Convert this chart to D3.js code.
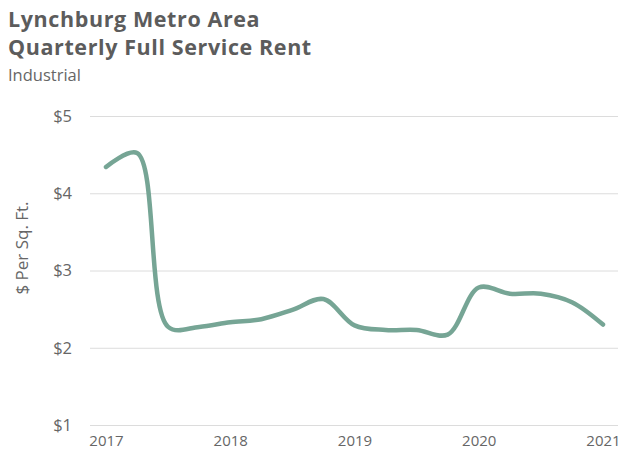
<!DOCTYPE html>
<html><head><meta charset="utf-8">
<script src="https://cdn.jsdelivr.net/npm/d3@7"></script>
<style>body{margin:0;background:#fff;} text{font-family:"Open Sans","Noto Sans",sans-serif;}</style>
</head><body><svg id="c" width="622" height="460"></svg>
<script>
const quarters = ["2017Q1","2017Q2","2017Q3","2017Q4","2018Q1","2018Q2","2018Q3","2018Q4","2019Q1","2019Q2","2019Q3","2019Q4","2020Q1","2020Q2","2020Q3","2020Q4","2021Q1"];
const rent = [4.34,4.52,2.27,2.27,2.33,2.37,2.49,2.63,2.29,2.23,2.23,2.17,2.78,2.70,2.70,2.59,2.30];
const yearTicks = [2017,2018,2019,2020,2021];
const yTicks = [1,2,3,4,5];

const svg = d3.select("#c");
const x = d3.scaleLinear().domain([2017, 2021]).range([106, 603]);
const y = d3.scaleLinear().domain([1, 5]).range([425, 116]);
const tx = q => +q.slice(0,4) + (+q.slice(5)-1)/4;

svg.append("text").attr("x",8).attr("y",27).attr("font-size",21.5).attr("letter-spacing",0.6).attr("font-weight",700).attr("fill","#5c5c5c").text("Lynchburg Metro Area");
svg.append("text").attr("x",8).attr("y",55).attr("font-size",21.5).attr("letter-spacing",0.6).attr("font-weight",700).attr("fill","#5c5c5c").text("Quarterly Full Service Rent");
svg.append("text").attr("x",8).attr("y",81).attr("font-size",16.5).attr("fill","#666").text("Industrial");

const ya = svg.append("g").attr("transform","translate(90,0)")
  .call(d3.axisLeft(y).tickValues(yTicks).tickSize(-528).tickFormat(d=>"$"+d).tickPadding(18));
ya.select(".domain").remove();
ya.selectAll("line").attr("stroke","#dcdcdc");
ya.selectAll("text").attr("font-size",16.5).attr("fill","#666").attr("font-family","'Open Sans',sans-serif");

const xa = svg.append("g").attr("transform","translate(0,425)")
  .call(d3.axisBottom(x).tickValues(yearTicks).tickSize(0).tickFormat(d3.format("d")).tickPadding(10));
xa.select(".domain").remove();
xa.selectAll("text").attr("font-size",15).attr("fill","#666").attr("font-family","'Open Sans',sans-serif");

svg.append("text").attr("transform","translate(28,248) rotate(-90)").attr("text-anchor","middle")
  .attr("font-size",17).attr("fill","#666").text("$ Per Sq. Ft.");

const line = d3.line().x((d,i)=>x(tx(quarters[i]))).y(d=>y(d)).curve(d3.curveCatmullRom.alpha(0.5));
svg.append("path").datum(rent).attr("d",line).attr("fill","none").attr("stroke","#76a595")
  .attr("stroke-width",4.5).attr("stroke-linecap","round").attr("stroke-linejoin","round");
</script></body></html>
